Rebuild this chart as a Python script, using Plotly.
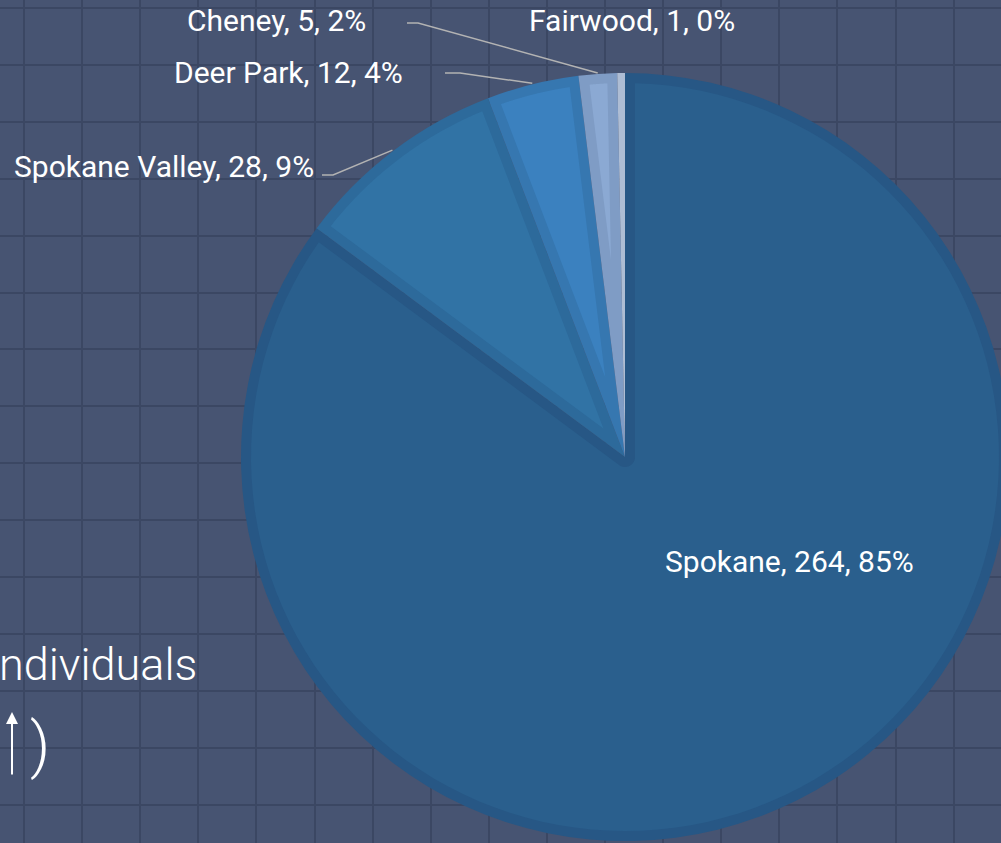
import numpy as np
import plotly.graph_objects as go

# ---------------- data ----------------
cities = ["Spokane", "Spokane Valley", "Deer Park", "Cheney", "Fairwood"]
counts = [264, 28, 12, 5, 1]
fill_colors = ["#2a5f8d", "#3173a5", "#3b81bf", "#8ba9d3", "#aebdd4"]
edge_colors = ["#275785", "#2d6a9b", "#3677b0", "#7f9cc5", "#aebdd4"]

# ---------------- layout constants (pixels) ----------------
W, H = 1012, 843          # canvas slightly wider than window: pie is cropped on the right
CX, CY, R = 625, 457, 384  # pie centre and radius
BORDER = 10                # inner border band of every slice
BG = "#475472"
GRID = "#3b4763"
FONT = "Roboto"
LABEL_SIZE = 30

label_layout = {
    "Spokane":        dict(x=789, y=561, xanchor="center"),
    "Spokane Valley": dict(x=316, y=166, xanchor="right", elbow=(333, 175), end=(322, 175)),
    "Deer Park":      dict(x=405, y=72,  xanchor="right", elbow=(460, 73),  end=(445, 73)),
    "Cheney":         dict(x=368, y=20,  xanchor="right", elbow=(418, 23),  end=(407, 23)),
    "Fairwood":       dict(x=527, y=20,  xanchor="left"),
}

total = sum(counts)
fracs = [c / total for c in counts]
starts = np.concatenate([[0], np.cumsum(fracs)[:-1]]) * 360.0
ends = np.cumsum(fracs) * 360.0


def pt(r, deg):
    a = np.radians(deg)
    return CX + r * np.sin(a), CY - r * np.cos(a)


def arc(r, d0, d1, n=120):
    return [pt(r, d) for d in np.linspace(d0, d1, n)]


def inset_path(a0, a1, d=BORDER):
    w = a1 - a0
    ro = R - d
    delta = np.degrees(np.arcsin(d / ro))
    t = np.sqrt(ro ** 2 - d ** 2)
    if w < 180:
        r0 = d / np.sin(np.radians(w / 2))
        if r0 >= t * 0.98 or a0 + delta >= a1 - delta:
            return None
        apex = pt(r0, (a0 + a1) / 2)
        pts = [apex, pt(np.hypot(t, d), a0 + delta)]
        pts += arc(ro, a0 + delta, a1 - delta)
        pts += [apex]
    else:
        pts = arc(ro, a0 + delta, a1 - delta)
        pts += [pt(d, a1 - 90)]
        pts += arc(d, a1 - 90, a0 + 90, 30)
    return "M " + " L ".join(f"{x:.2f},{y:.2f}" for x, y in pts) + " Z"


fig = go.Figure()

# empty cartesian trace so that the background grid axes exist
fig.add_trace(go.Scatter(x=[], y=[], showlegend=False, hoverinfo="skip"))

fig.add_trace(go.Pie(
    labels=cities,
    values=counts,
    sort=False,
    direction="clockwise",
    rotation=0,
    marker=dict(colors=edge_colors, line=dict(width=0)),
    textinfo="none",
    hoverinfo="label+value+percent",
    showlegend=False,
    domain=dict(x=[(CX - R) / W, (CX + R) / W],
                y=[(H - (CY + R)) / H, (H - (CY - R)) / H]),
))

shapes = []
for i, city in enumerate(cities):
    p = inset_path(starts[i], ends[i])
    if p:
        shapes.append(dict(type="path", path=p, xref="x", yref="y",
                           fillcolor=fill_colors[i], line=dict(width=0), layer="above"))

annotations = []
for i, city in enumerate(cities):
    pct = round(100 * fracs[i])
    lay = label_layout[city]
    annotations.append(dict(
        x=lay["x"], y=lay["y"], xref="x", yref="y",
        text=f"{city}, {counts[i]}, {pct}%", showarrow=False,
        xanchor=lay["xanchor"], yanchor="middle",
        font=dict(family=FONT, size=LABEL_SIZE, color="white"),
    ))
    if "elbow" in lay:
        mid = (starts[i] + ends[i]) / 2
        ex, ey = pt(R + 1, mid)
        (bx, by), (fx, fy) = lay["elbow"], lay["end"]
        shapes.append(dict(type="path", xref="x", yref="y", layer="above",
                           path=f"M {ex:.2f},{ey:.2f} L {bx},{by} L {fx},{fy}",
                           line=dict(color="#b3b3b3", width=1.5)))

# background slide text (cropped)
annotations.append(dict(x=0, y=664, xref="x", yref="y", text="ndividuals", xshift=-3,
                        showarrow=False, xanchor="left", yanchor="middle",
                        font=dict(family=FONT, size=45, color="white", weight=300)))
annotations.append(dict(x=40, y=744, xref="x", yref="y", text=")",
                        showarrow=False, xanchor="center", yanchor="middle",
                        font=dict(family=FONT, size=62, color="white", weight=300)))
annotations.append(dict(x=12, y=712, ax=12, ay=776, xref="x", yref="y",
                        axref="x", ayref="y", text="", showarrow=True,
                        arrowhead=2, arrowsize=1.2, arrowwidth=2, arrowcolor="white"))

fig.update_layout(
    width=W, height=H,
    margin=dict(l=0, r=0, t=0, b=0),
    paper_bgcolor=BG, plot_bgcolor=BG,
    shapes=shapes, annotations=annotations,
    xaxis=dict(range=[0, W], domain=[0, 1], showgrid=True, gridcolor=GRID, gridwidth=2,
               tick0=24, dtick=58.1, showticklabels=False, zeroline=False,
               showline=False, ticks="", fixedrange=True),
    yaxis=dict(range=[H, 0], domain=[0, 1], showgrid=True, gridcolor=GRID, gridwidth=2,
               tick0=8, dtick=56.9, showticklabels=False, zeroline=False,
               showline=False, ticks="", fixedrange=True),
)

fig.write_html("out.html", config={"displayModeBar": False},
               post_script="document.body.style.margin='0';"
                           "document.body.style.overflow='hidden';")
